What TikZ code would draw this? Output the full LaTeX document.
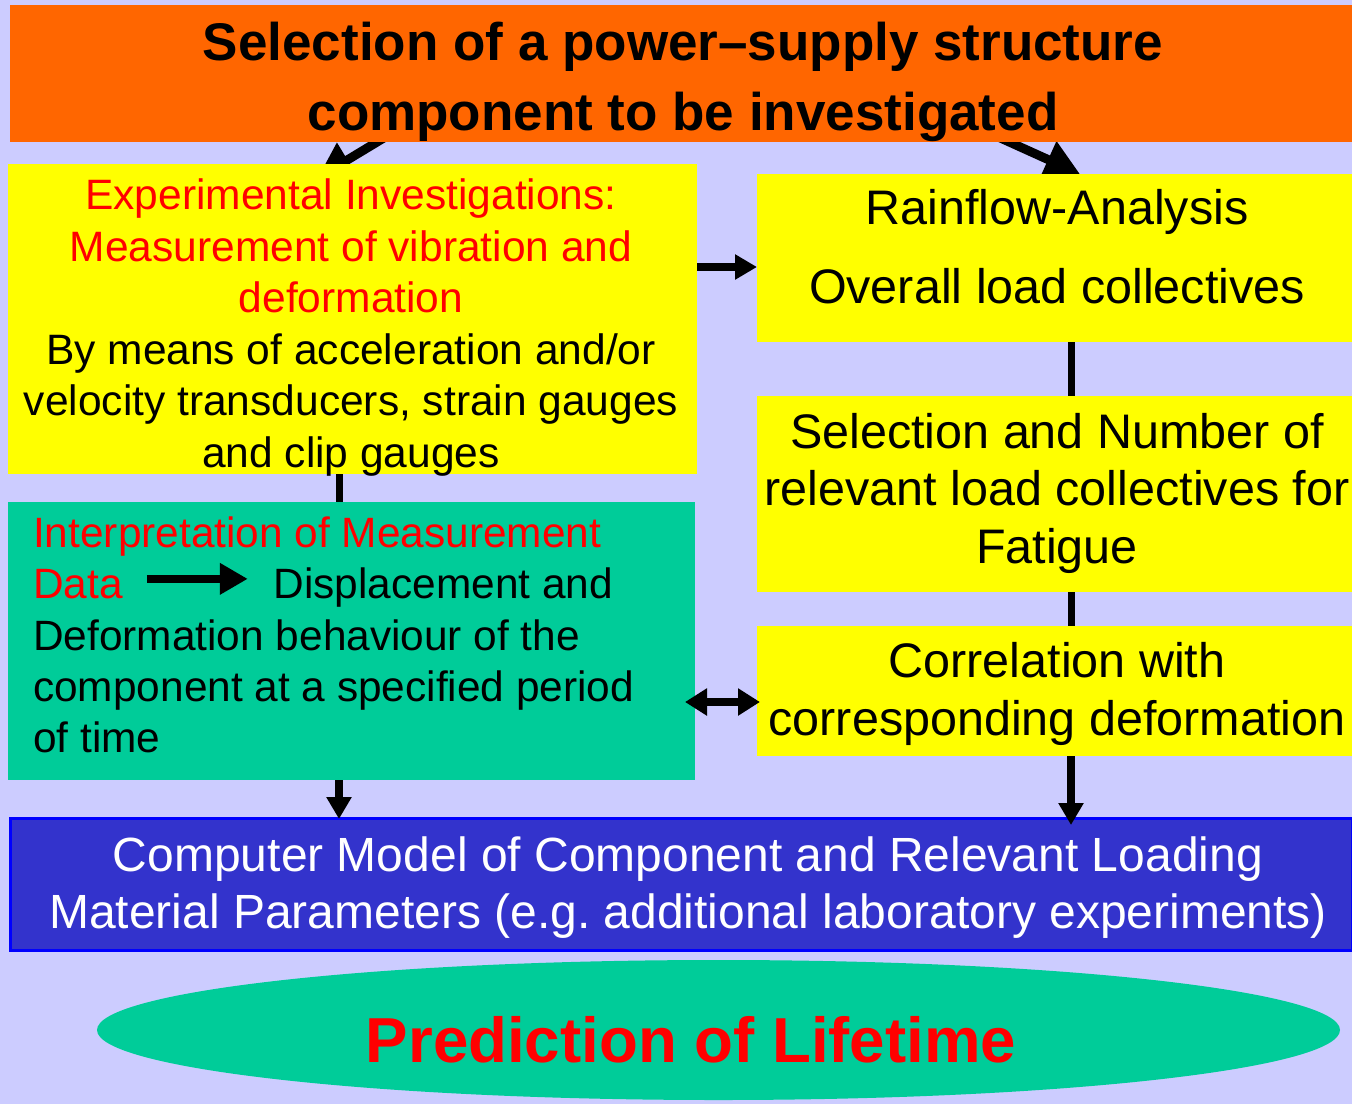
\documentclass[tikz,border=0pt]{standalone}
\usepackage{fontspec}
\setmainfont{Liberation Sans}
\usetikzlibrary{arrows.meta,shapes.geometric}

\definecolor{lavend}{HTML}{CCCCFF}
\definecolor{orangebox}{HTML}{FF6600}
\definecolor{yelbox}{HTML}{FFFF00}
\definecolor{greenbox}{HTML}{00CC99}
\definecolor{bluebox}{HTML}{3333CC}
\definecolor{blueline}{HTML}{0000FF}

\pgfdeclarelayer{back}
\pgfdeclarelayer{conn}
\pgfsetlayers{back,conn,main}

\tikzset{
  box/.style={inner sep=0pt, outer sep=0pt},
  ybox/.style={box, fill=yelbox, minimum width=595pt},
  txt/.style={inner sep=0pt, align=center},
  link/.style={line width=7pt},
  arr/.style={line width=8pt, -{Triangle[length=22pt,width=24pt]}},
  dblarr/.style={line width=8pt, {Triangle[length=22pt,width=26pt]}-{Triangle[length=22pt,width=26pt]}},
  toparr/.style={line width=9pt, -{Triangle[length=35pt,width=38pt]}}
}

\begin{document}
\begin{tikzpicture}[x=1pt,y=-1pt]
\useasboundingbox (0,0) rectangle (1352,1104);
\begin{pgfonlayer}{back}
\fill[lavend] (0,0) rectangle (1352,1104);
\end{pgfonlayer}

% boxes
\node[box, fill=orangebox, minimum width=1342pt, minimum height=137pt] (top) at (681,73.5) {};
\node[box, fill=yelbox, minimum width=689pt, minimum height=310pt] (lyel) at (352.5,319) {};
\node[ybox, minimum height=168pt] (rain) at (1054.5,258) {};
\node[ybox, minimum height=196pt] (sel) at (1054.5,494) {};
\node[ybox, minimum height=130pt] (corr) at (1054.5,691) {};
\node[box, fill=greenbox, minimum width=687pt, minimum height=278pt] (green) at (351.5,641) {};
\node[box, fill=bluebox, draw=blueline, line width=3pt, minimum width=1342pt, minimum height=132pt] (blue) at (681,884) {};
\node[box, ellipse, fill=greenbox, minimum width=1243pt, minimum height=140pt] (pred) at (718.5,1030) {};

% texts
\node[txt, font=\bfseries\fontsize{53}{70}\selectfont] (topT) at (683,82)
  {Selection of a power–supply structure\\component to be investigated};
\node[txt, font=\fontsize{42.5}{51.6}\selectfont] (lyelT) at (351,327.5)
  {\color{red}Experimental Investigations:\\\color{red}Measurement of vibration and\\\color{red}deformation\\
   By means of acceleration and/or\\velocity transducers, strain gauges\\and clip gauges};
\node[txt, font=\fontsize{48.5}{58}\selectfont] (rainT) at (1057,246.5)
  {Rainflow-Analysis\\[21pt]Overall load collectives};
\node[txt, font=\fontsize{48.5}{57.5}\selectfont] (selT) at (1057,493)
  {Selection and Number of\\relevant load collectives for\\Fatigue};
\node[txt, font=\fontsize{48.5}{58}\selectfont] (corrT) at (1057,694)
  {Correlation with\\corresponding deformation};
\node[txt, align=left, anchor=west, font=\fontsize{42.4}{51.3}\selectfont] (greenT) at (33,635)
  {\color{red}Interpretation of Measurement\\
   {\color{red}Data}\hspace{20pt}\tikz[baseline={(0pt,-20pt)}]\draw[line width=8pt,-{Triangle[length=28pt,width=30pt]}] (0pt,0pt) -- (101pt,0pt);\hspace{22pt}Displacement and\\
   Deformation behaviour of the\\component at a specified period\\of time};
\node[txt, text=white, font=\fontsize{48}{57}\selectfont] (blueT) at (688,888)
  {Computer Model of Component and Relevant Loading\\Material Parameters (e.g.\ additional laboratory experiments)};
\node[txt, text=red, font=\bfseries\fontsize{63.6}{70}\selectfont] (predT) at (691,1040) {Prediction of Lifetime};

% connectors
\begin{pgfonlayer}{conn}
\draw[toparr] ([xshift=-294pt,yshift=6pt]top.south) -- ([xshift=-35pt,yshift=-14pt]lyel.north);
\draw[toparr] ([xshift=315pt,yshift=6pt]top.south) -- ([xshift=25.5pt]rain.north);
\end{pgfonlayer}
\draw[arr] ([yshift=-9pt]lyel.east |- rain.west) -- ([yshift=-9pt]rain.west);
\draw[link] ([xshift=16.5pt]rain.south) -- ([xshift=16.5pt]sel.north);
\draw[link] ([xshift=16.5pt]sel.south) -- ([xshift=16.5pt]corr.north);
\draw[arr] ([xshift=16.5pt]corr.south) -- ([xshift=16.5pt,yshift=-7pt]blue.north -| corr.south);
\draw[link] ([xshift=-13.5pt]lyel.south) -- ([xshift=-12.5pt]green.north);
\draw[arr] ([xshift=-12.5pt]green.south) -- ([xshift=-12.5pt,yshift=-1pt]blue.north -| green.south);
\draw[dblarr] ([xshift=-10pt,yshift=-11pt]green.east |- corr.west) -- ([xshift=3pt,yshift=-11pt]corr.west);
\end{tikzpicture}
\end{document}
